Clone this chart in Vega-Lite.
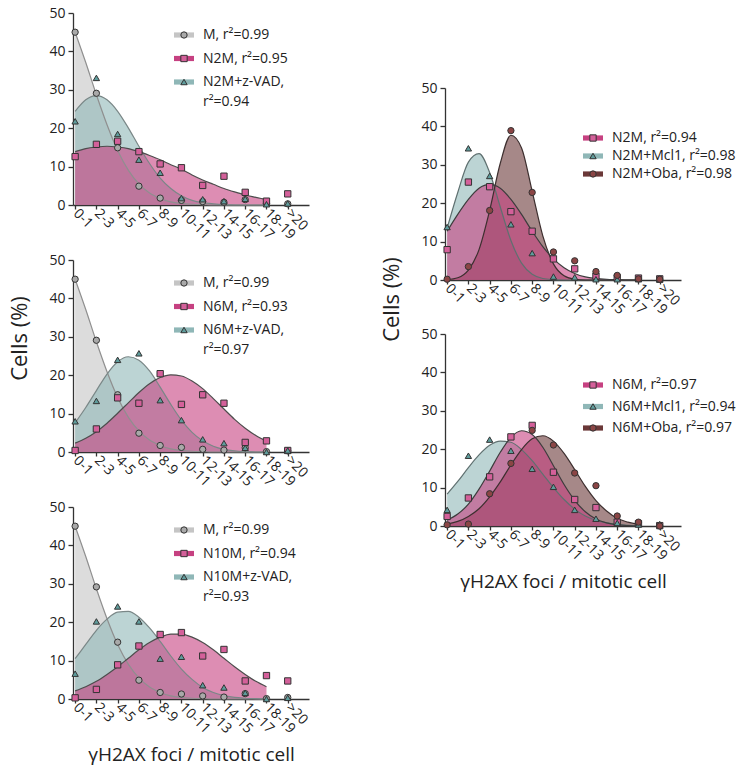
{
"$schema": "https://vega.github.io/schema/vega-lite/v6.json",
"padding": {"left": 8, "top": 6, "right": 0, "bottom": 4},
"config": {
  "font": "Open Sans",
  "view": {"stroke": null},
  "axis": {"domainColor": "#333333", "tickColor": "#333333", "labelColor": "#222222", "titleColor": "#222222", "labelFontSize": 14, "titleFontSize": 22, "titleFontWeight": "normal", "grid": false, "domainWidth": 1.3, "tickWidth": 1.3},
  "legend": {"labelFontSize": 14, "labelColor": "#222222", "padding": 0, "labelLimit": 300},
  "style": {"guide-label": {"lineHeight": 20}}
},
"datasets": {
"curves": [
{"p":"L1","s":"M","x":0,"y":45},{"p":"L1","s":"M","x":0.5,"y":37.1},{"p":"L1","s":"M","x":1,"y":28.7},{"p":"L1","s":"M","x":1.5,"y":20.9},{"p":"L1","s":"M","x":2,"y":14.2},{"p":"L1","s":"M","x":2.5,"y":9.1},{"p":"L1","s":"M","x":3,"y":5.5},{"p":"L1","s":"M","x":3.5,"y":3.1},{"p":"L1","s":"M","x":4,"y":1.7},{"p":"L1","s":"M","x":4.5,"y":0.8},{"p":"L1","s":"M","x":5,"y":0.4},{"p":"L1","s":"M","x":5.5,"y":0.2},{"p":"L1","s":"M","x":6,"y":0.1},{"p":"L1","s":"M","x":6.5,"y":0},{"p":"L1","s":"M","x":7,"y":0},{"p":"L1","s":"M","x":7.5,"y":0},{"p":"L1","s":"M","x":8,"y":0},{"p":"L1","s":"M","x":8.5,"y":0},{"p":"L1","s":"M","x":9,"y":0},
{"p":"L1","s":"N2M+z-VAD","x":0,"y":24.4},{"p":"L1","s":"N2M+z-VAD","x":0.5,"y":27.4},{"p":"L1","s":"N2M+z-VAD","x":1,"y":28.5},{"p":"L1","s":"N2M+z-VAD","x":1.5,"y":27.4},{"p":"L1","s":"N2M+z-VAD","x":2,"y":24.4},{"p":"L1","s":"N2M+z-VAD","x":2.5,"y":20.1},{"p":"L1","s":"N2M+z-VAD","x":3,"y":15.3},{"p":"L1","s":"N2M+z-VAD","x":3.5,"y":10.8},{"p":"L1","s":"N2M+z-VAD","x":4,"y":7},{"p":"L1","s":"N2M+z-VAD","x":4.5,"y":4.3},{"p":"L1","s":"N2M+z-VAD","x":5,"y":2.4},{"p":"L1","s":"N2M+z-VAD","x":5.5,"y":1.2},{"p":"L1","s":"N2M+z-VAD","x":6,"y":0.6},{"p":"L1","s":"N2M+z-VAD","x":6.5,"y":0.3},{"p":"L1","s":"N2M+z-VAD","x":7,"y":0.1},{"p":"L1","s":"N2M+z-VAD","x":7.5,"y":0},{"p":"L1","s":"N2M+z-VAD","x":8,"y":0},{"p":"L1","s":"N2M+z-VAD","x":8.5,"y":0},{"p":"L1","s":"N2M+z-VAD","x":9,"y":0},
{"p":"L1","s":"N2M","x":0,"y":13.9},{"p":"L1","s":"N2M","x":0.5,"y":14.7},{"p":"L1","s":"N2M","x":1,"y":15.1},{"p":"L1","s":"N2M","x":1.5,"y":15.3},{"p":"L1","s":"N2M","x":2,"y":15.1},{"p":"L1","s":"N2M","x":2.5,"y":14.7},{"p":"L1","s":"N2M","x":3,"y":13.9},{"p":"L1","s":"N2M","x":3.5,"y":12.9},{"p":"L1","s":"N2M","x":4,"y":11.8},{"p":"L1","s":"N2M","x":4.5,"y":10.5},{"p":"L1","s":"N2M","x":5,"y":9.3},{"p":"L1","s":"N2M","x":5.5,"y":7.8},{"p":"L1","s":"N2M","x":6,"y":6.5},{"p":"L1","s":"N2M","x":6.5,"y":5.4},{"p":"L1","s":"N2M","x":7,"y":4.3},{"p":"L1","s":"N2M","x":7.5,"y":3.4},{"p":"L1","s":"N2M","x":8,"y":2.6},{"p":"L1","s":"N2M","x":8.5,"y":2},{"p":"L1","s":"N2M","x":9,"y":1.4},
{"p":"L2","s":"M","x":0,"y":45},{"p":"L2","s":"M","x":0.5,"y":37.1},{"p":"L2","s":"M","x":1,"y":28.7},{"p":"L2","s":"M","x":1.5,"y":20.9},{"p":"L2","s":"M","x":2,"y":14.2},{"p":"L2","s":"M","x":2.5,"y":9.1},{"p":"L2","s":"M","x":3,"y":5.5},{"p":"L2","s":"M","x":3.5,"y":3.1},{"p":"L2","s":"M","x":4,"y":1.7},{"p":"L2","s":"M","x":4.5,"y":0.8},{"p":"L2","s":"M","x":5,"y":0.4},{"p":"L2","s":"M","x":5.5,"y":0.2},{"p":"L2","s":"M","x":6,"y":0.1},{"p":"L2","s":"M","x":6.5,"y":0},{"p":"L2","s":"M","x":7,"y":0},{"p":"L2","s":"M","x":7.5,"y":0},{"p":"L2","s":"M","x":8,"y":0},{"p":"L2","s":"M","x":8.5,"y":0},{"p":"L2","s":"M","x":9,"y":0},
{"p":"L2","s":"N6M+z-VAD","x":0,"y":7.6},{"p":"L2","s":"N6M+z-VAD","x":0.5,"y":11.6},{"p":"L2","s":"N6M+z-VAD","x":1,"y":16},{"p":"L2","s":"N6M+z-VAD","x":1.5,"y":20.3},{"p":"L2","s":"N6M+z-VAD","x":2,"y":23.5},{"p":"L2","s":"N6M+z-VAD","x":2.5,"y":24.8},{"p":"L2","s":"N6M+z-VAD","x":3,"y":23.9},{"p":"L2","s":"N6M+z-VAD","x":3.5,"y":21.1},{"p":"L2","s":"N6M+z-VAD","x":4,"y":16.9},{"p":"L2","s":"N6M+z-VAD","x":4.5,"y":12.4},{"p":"L2","s":"N6M+z-VAD","x":5,"y":8.3},{"p":"L2","s":"N6M+z-VAD","x":5.5,"y":5.1},{"p":"L2","s":"N6M+z-VAD","x":6,"y":2.9},{"p":"L2","s":"N6M+z-VAD","x":6.5,"y":1.5},{"p":"L2","s":"N6M+z-VAD","x":7,"y":0.7},{"p":"L2","s":"N6M+z-VAD","x":7.5,"y":0.3},{"p":"L2","s":"N6M+z-VAD","x":8,"y":0.1},{"p":"L2","s":"N6M+z-VAD","x":8.5,"y":0},{"p":"L2","s":"N6M+z-VAD","x":9,"y":0},
{"p":"L2","s":"N6M","x":0,"y":2.3},{"p":"L2","s":"N6M","x":0.5,"y":3.6},{"p":"L2","s":"N6M","x":1,"y":5.3},{"p":"L2","s":"N6M","x":1.5,"y":7.5},{"p":"L2","s":"N6M","x":2,"y":10.1},{"p":"L2","s":"N6M","x":2.5,"y":12.8},{"p":"L2","s":"N6M","x":3,"y":15.5},{"p":"L2","s":"N6M","x":3.5,"y":17.8},{"p":"L2","s":"N6M","x":4,"y":19.4},{"p":"L2","s":"N6M","x":4.5,"y":20.1},{"p":"L2","s":"N6M","x":5,"y":19.8},{"p":"L2","s":"N6M","x":5.5,"y":18.5},{"p":"L2","s":"N6M","x":6,"y":16.5},{"p":"L2","s":"N6M","x":6.5,"y":13.9},{"p":"L2","s":"N6M","x":7,"y":11.2},{"p":"L2","s":"N6M","x":7.5,"y":8.5},{"p":"L2","s":"N6M","x":8,"y":6.2},{"p":"L2","s":"N6M","x":8.5,"y":4.3},{"p":"L2","s":"N6M","x":9,"y":2.8},
{"p":"L3","s":"M","x":0,"y":45},{"p":"L3","s":"M","x":0.5,"y":37.1},{"p":"L3","s":"M","x":1,"y":28.7},{"p":"L3","s":"M","x":1.5,"y":20.9},{"p":"L3","s":"M","x":2,"y":14.2},{"p":"L3","s":"M","x":2.5,"y":9.1},{"p":"L3","s":"M","x":3,"y":5.5},{"p":"L3","s":"M","x":3.5,"y":3.1},{"p":"L3","s":"M","x":4,"y":1.7},{"p":"L3","s":"M","x":4.5,"y":0.8},{"p":"L3","s":"M","x":5,"y":0.4},{"p":"L3","s":"M","x":5.5,"y":0.2},{"p":"L3","s":"M","x":6,"y":0.1},{"p":"L3","s":"M","x":6.5,"y":0},{"p":"L3","s":"M","x":7,"y":0},{"p":"L3","s":"M","x":7.5,"y":0},{"p":"L3","s":"M","x":8,"y":0},{"p":"L3","s":"M","x":8.5,"y":0},{"p":"L3","s":"M","x":9,"y":0},
{"p":"L3","s":"N10M+z-VAD","x":0,"y":10.5},{"p":"L3","s":"N10M+z-VAD","x":0.5,"y":14.2},{"p":"L3","s":"N10M+z-VAD","x":1,"y":17.9},{"p":"L3","s":"N10M+z-VAD","x":1.5,"y":20.8},{"p":"L3","s":"N10M+z-VAD","x":2,"y":22.6},{"p":"L3","s":"N10M+z-VAD","x":2.5,"y":22.8},{"p":"L3","s":"N10M+z-VAD","x":3,"y":21.3},{"p":"L3","s":"N10M+z-VAD","x":3.5,"y":18.5},{"p":"L3","s":"N10M+z-VAD","x":4,"y":15},{"p":"L3","s":"N10M+z-VAD","x":4.5,"y":11.2},{"p":"L3","s":"N10M+z-VAD","x":5,"y":7.8},{"p":"L3","s":"N10M+z-VAD","x":5.5,"y":5.1},{"p":"L3","s":"N10M+z-VAD","x":6,"y":3},{"p":"L3","s":"N10M+z-VAD","x":6.5,"y":1.7},{"p":"L3","s":"N10M+z-VAD","x":7,"y":0.9},{"p":"L3","s":"N10M+z-VAD","x":7.5,"y":0.4},{"p":"L3","s":"N10M+z-VAD","x":8,"y":0.2},{"p":"L3","s":"N10M+z-VAD","x":8.5,"y":0.1},{"p":"L3","s":"N10M+z-VAD","x":9,"y":0},
{"p":"L3","s":"N10M","x":0,"y":2.1},{"p":"L3","s":"N10M","x":0.5,"y":3.2},{"p":"L3","s":"N10M","x":1,"y":4.6},{"p":"L3","s":"N10M","x":1.5,"y":6.4},{"p":"L3","s":"N10M","x":2,"y":8.4},{"p":"L3","s":"N10M","x":2.5,"y":10.6},{"p":"L3","s":"N10M","x":3,"y":12.8},{"p":"L3","s":"N10M","x":3.5,"y":14.7},{"p":"L3","s":"N10M","x":4,"y":16.1},{"p":"L3","s":"N10M","x":4.5,"y":16.9},{"p":"L3","s":"N10M","x":5,"y":16.9},{"p":"L3","s":"N10M","x":5.5,"y":16.1},{"p":"L3","s":"N10M","x":6,"y":14.7},{"p":"L3","s":"N10M","x":6.5,"y":12.8},{"p":"L3","s":"N10M","x":7,"y":10.6},{"p":"L3","s":"N10M","x":7.5,"y":8.4},{"p":"L3","s":"N10M","x":8,"y":6.4},{"p":"L3","s":"N10M","x":8.5,"y":4.6},{"p":"L3","s":"N10M","x":9,"y":3.2},
{"p":"R1","s":"N2M+Mcl1","x":0,"y":13.5},{"p":"R1","s":"N2M+Mcl1","x":0.5,"y":22.8},{"p":"R1","s":"N2M+Mcl1","x":1,"y":30.7},{"p":"R1","s":"N2M+Mcl1","x":1.5,"y":32.9},{"p":"R1","s":"N2M+Mcl1","x":2,"y":28},{"p":"R1","s":"N2M+Mcl1","x":2.5,"y":19},{"p":"R1","s":"N2M+Mcl1","x":3,"y":10.3},{"p":"R1","s":"N2M+Mcl1","x":3.5,"y":4.4},{"p":"R1","s":"N2M+Mcl1","x":4,"y":1.5},{"p":"R1","s":"N2M+Mcl1","x":4.5,"y":0.4},{"p":"R1","s":"N2M+Mcl1","x":5,"y":0.1},{"p":"R1","s":"N2M+Mcl1","x":5.5,"y":0},{"p":"R1","s":"N2M+Mcl1","x":6,"y":0},{"p":"R1","s":"N2M+Mcl1","x":6.5,"y":0},{"p":"R1","s":"N2M+Mcl1","x":7,"y":0},{"p":"R1","s":"N2M+Mcl1","x":7.5,"y":0},{"p":"R1","s":"N2M+Mcl1","x":8,"y":0},{"p":"R1","s":"N2M+Mcl1","x":8.5,"y":0},{"p":"R1","s":"N2M+Mcl1","x":9,"y":0},
{"p":"R1","s":"N2M+Oba","x":0,"y":0.1},{"p":"R1","s":"N2M+Oba","x":0.5,"y":0.6},{"p":"R1","s":"N2M+Oba","x":1,"y":2.6},{"p":"R1","s":"N2M+Oba","x":1.5,"y":7.9},{"p":"R1","s":"N2M+Oba","x":2,"y":18.1},{"p":"R1","s":"N2M+Oba","x":2.5,"y":30.4},{"p":"R1","s":"N2M+Oba","x":3,"y":37.7},{"p":"R1","s":"N2M+Oba","x":3.5,"y":34.4},{"p":"R1","s":"N2M+Oba","x":4,"y":23.1},{"p":"R1","s":"N2M+Oba","x":4.5,"y":11.5},{"p":"R1","s":"N2M+Oba","x":5,"y":4.2},{"p":"R1","s":"N2M+Oba","x":5.5,"y":1.1},{"p":"R1","s":"N2M+Oba","x":6,"y":0.2},{"p":"R1","s":"N2M+Oba","x":6.5,"y":0},{"p":"R1","s":"N2M+Oba","x":7,"y":0},{"p":"R1","s":"N2M+Oba","x":7.5,"y":0},{"p":"R1","s":"N2M+Oba","x":8,"y":0},{"p":"R1","s":"N2M+Oba","x":8.5,"y":0},{"p":"R1","s":"N2M+Oba","x":9,"y":0},
{"p":"R1","s":"N2M","x":0,"y":12.7},{"p":"R1","s":"N2M","x":0.5,"y":17.1},{"p":"R1","s":"N2M","x":1,"y":21},{"p":"R1","s":"N2M","x":1.5,"y":23.9},{"p":"R1","s":"N2M","x":2,"y":24.9},{"p":"R1","s":"N2M","x":2.5,"y":23.9},{"p":"R1","s":"N2M","x":3,"y":21},{"p":"R1","s":"N2M","x":3.5,"y":17.1},{"p":"R1","s":"N2M","x":4,"y":12.7},{"p":"R1","s":"N2M","x":4.5,"y":8.7},{"p":"R1","s":"N2M","x":5,"y":5.5},{"p":"R1","s":"N2M","x":5.5,"y":3.2},{"p":"R1","s":"N2M","x":6,"y":1.7},{"p":"R1","s":"N2M","x":6.5,"y":0.8},{"p":"R1","s":"N2M","x":7,"y":0.4},{"p":"R1","s":"N2M","x":7.5,"y":0.2},{"p":"R1","s":"N2M","x":8,"y":0.1},{"p":"R1","s":"N2M","x":8.5,"y":0},{"p":"R1","s":"N2M","x":9,"y":0},
{"p":"R2","s":"N6M+Mcl1","x":0,"y":8.3},{"p":"R2","s":"N6M+Mcl1","x":0.5,"y":11.6},{"p":"R2","s":"N6M+Mcl1","x":1,"y":15.2},{"p":"R2","s":"N6M+Mcl1","x":1.5,"y":18.5},{"p":"R2","s":"N6M+Mcl1","x":2,"y":21},{"p":"R2","s":"N6M+Mcl1","x":2.5,"y":22.1},{"p":"R2","s":"N6M+Mcl1","x":3,"y":21.8},{"p":"R2","s":"N6M+Mcl1","x":3.5,"y":19.9},{"p":"R2","s":"N6M+Mcl1","x":4,"y":17},{"p":"R2","s":"N6M+Mcl1","x":4.5,"y":13.5},{"p":"R2","s":"N6M+Mcl1","x":5,"y":10},{"p":"R2","s":"N6M+Mcl1","x":5.5,"y":6.9},{"p":"R2","s":"N6M+Mcl1","x":6,"y":4.4},{"p":"R2","s":"N6M+Mcl1","x":6.5,"y":2.6},{"p":"R2","s":"N6M+Mcl1","x":7,"y":1.5},{"p":"R2","s":"N6M+Mcl1","x":7.5,"y":0.8},{"p":"R2","s":"N6M+Mcl1","x":8,"y":0.4},{"p":"R2","s":"N6M+Mcl1","x":8.5,"y":0.2},{"p":"R2","s":"N6M+Mcl1","x":9,"y":0.1},
{"p":"R2","s":"N6M+Oba","x":0,"y":0.5},{"p":"R2","s":"N6M+Oba","x":0.5,"y":1.2},{"p":"R2","s":"N6M+Oba","x":1,"y":2.5},{"p":"R2","s":"N6M+Oba","x":1.5,"y":4.5},{"p":"R2","s":"N6M+Oba","x":2,"y":7.6},{"p":"R2","s":"N6M+Oba","x":2.5,"y":11.5},{"p":"R2","s":"N6M+Oba","x":3,"y":15.9},{"p":"R2","s":"N6M+Oba","x":3.5,"y":19.9},{"p":"R2","s":"N6M+Oba","x":4,"y":22.7},{"p":"R2","s":"N6M+Oba","x":4.5,"y":23.5},{"p":"R2","s":"N6M+Oba","x":5,"y":22.1},{"p":"R2","s":"N6M+Oba","x":5.5,"y":18.9},{"p":"R2","s":"N6M+Oba","x":6,"y":14.7},{"p":"R2","s":"N6M+Oba","x":6.5,"y":10.3},{"p":"R2","s":"N6M+Oba","x":7,"y":6.6},{"p":"R2","s":"N6M+Oba","x":7.5,"y":3.9},{"p":"R2","s":"N6M+Oba","x":8,"y":2},{"p":"R2","s":"N6M+Oba","x":8.5,"y":1},{"p":"R2","s":"N6M+Oba","x":9,"y":0.4},
{"p":"R2","s":"N6M","x":0,"y":1.5},{"p":"R2","s":"N6M","x":0.5,"y":3.1},{"p":"R2","s":"N6M","x":1,"y":5.7},{"p":"R2","s":"N6M","x":1.5,"y":9.6},{"p":"R2","s":"N6M","x":2,"y":14.3},{"p":"R2","s":"N6M","x":2.5,"y":19.2},{"p":"R2","s":"N6M","x":3,"y":23.1},{"p":"R2","s":"N6M","x":3.5,"y":24.8},{"p":"R2","s":"N6M","x":4,"y":23.8},{"p":"R2","s":"N6M","x":4.5,"y":20.5},{"p":"R2","s":"N6M","x":5,"y":15.7},{"p":"R2","s":"N6M","x":5.5,"y":10.8},{"p":"R2","s":"N6M","x":6,"y":6.7},{"p":"R2","s":"N6M","x":6.5,"y":3.7},{"p":"R2","s":"N6M","x":7,"y":1.8},{"p":"R2","s":"N6M","x":7.5,"y":0.8},{"p":"R2","s":"N6M","x":8,"y":0.3},{"p":"R2","s":"N6M","x":8.5,"y":0.1},{"p":"R2","s":"N6M","x":9,"y":0}
],
"points": [
{"p":"L1","s":"M","x":0,"y":45},{"p":"L1","s":"M","x":1,"y":29.1},{"p":"L1","s":"M","x":2,"y":14.9},{"p":"L1","s":"M","x":3,"y":4.9},{"p":"L1","s":"M","x":4,"y":1.8},{"p":"L1","s":"M","x":5,"y":1.2},{"p":"L1","s":"M","x":6,"y":0.9},{"p":"L1","s":"M","x":7,"y":0.7},{"p":"L1","s":"M","x":8,"y":1.4},{"p":"L1","s":"M","x":9,"y":0.4},{"p":"L1","s":"M","x":10,"y":0.3},
{"p":"L1","s":"N2M","x":0,"y":12.6},{"p":"L1","s":"N2M","x":1,"y":15.8},{"p":"L1","s":"N2M","x":2,"y":16.6},{"p":"L1","s":"N2M","x":3,"y":13.9},{"p":"L1","s":"N2M","x":4,"y":10.7},{"p":"L1","s":"N2M","x":5,"y":9.7},{"p":"L1","s":"N2M","x":6,"y":5.1},{"p":"L1","s":"N2M","x":7,"y":7.5},{"p":"L1","s":"N2M","x":8,"y":3.3},{"p":"L1","s":"N2M","x":9,"y":1},{"p":"L1","s":"N2M","x":10,"y":2.9},
{"p":"L1","s":"N2M+z-VAD","x":0,"y":21.8},{"p":"L1","s":"N2M+z-VAD","x":1,"y":33.1},{"p":"L1","s":"N2M+z-VAD","x":2,"y":18.5},{"p":"L1","s":"N2M+z-VAD","x":3,"y":11.8},{"p":"L1","s":"N2M+z-VAD","x":4,"y":8.4},{"p":"L1","s":"N2M+z-VAD","x":5,"y":1.8},{"p":"L1","s":"N2M+z-VAD","x":6,"y":1.5},{"p":"L1","s":"N2M+z-VAD","x":7,"y":1},{"p":"L1","s":"N2M+z-VAD","x":8,"y":1.6},{"p":"L1","s":"N2M+z-VAD","x":9,"y":0.2},{"p":"L1","s":"N2M+z-VAD","x":10,"y":0.4},
{"p":"L2","s":"M","x":0,"y":45},{"p":"L2","s":"M","x":1,"y":29.1},{"p":"L2","s":"M","x":2,"y":14.9},{"p":"L2","s":"M","x":3,"y":4.9},{"p":"L2","s":"M","x":4,"y":1.7},{"p":"L2","s":"M","x":5,"y":1.2},{"p":"L2","s":"M","x":6,"y":0.7},{"p":"L2","s":"M","x":7,"y":0.5},{"p":"L2","s":"M","x":8,"y":1.1},{"p":"L2","s":"M","x":9,"y":0.1},{"p":"L2","s":"M","x":10,"y":0.3},
{"p":"L2","s":"N6M","x":0,"y":0.4},{"p":"L2","s":"N6M","x":1,"y":6},{"p":"L2","s":"N6M","x":2,"y":14.1},{"p":"L2","s":"N6M","x":3,"y":12.7},{"p":"L2","s":"N6M","x":4,"y":20.4},{"p":"L2","s":"N6M","x":5,"y":12.4},{"p":"L2","s":"N6M","x":6,"y":14.9},{"p":"L2","s":"N6M","x":7,"y":12.7},{"p":"L2","s":"N6M","x":8,"y":2.5},{"p":"L2","s":"N6M","x":9,"y":2.9},{"p":"L2","s":"N6M","x":10,"y":0.4},
{"p":"L2","s":"N6M+z-VAD","x":0,"y":8},{"p":"L2","s":"N6M+z-VAD","x":1,"y":13.3},{"p":"L2","s":"N6M+z-VAD","x":2,"y":24},{"p":"L2","s":"N6M+z-VAD","x":3,"y":25.7},{"p":"L2","s":"N6M+z-VAD","x":4,"y":13.5},{"p":"L2","s":"N6M+z-VAD","x":5,"y":8.3},{"p":"L2","s":"N6M+z-VAD","x":6,"y":3.3},{"p":"L2","s":"N6M+z-VAD","x":7,"y":2.3},{"p":"L2","s":"N6M+z-VAD","x":8,"y":1.1},{"p":"L2","s":"N6M+z-VAD","x":9,"y":0},{"p":"L2","s":"N6M+z-VAD","x":10,"y":0.4},
{"p":"L3","s":"M","x":0,"y":45},{"p":"L3","s":"M","x":1,"y":29.2},{"p":"L3","s":"M","x":2,"y":14.8},{"p":"L3","s":"M","x":3,"y":4.9},{"p":"L3","s":"M","x":4,"y":1.7},{"p":"L3","s":"M","x":5,"y":1.3},{"p":"L3","s":"M","x":6,"y":0.8},{"p":"L3","s":"M","x":7,"y":0.5},{"p":"L3","s":"M","x":8,"y":1.4},{"p":"L3","s":"M","x":9,"y":0.1},{"p":"L3","s":"M","x":10,"y":0.4},
{"p":"L3","s":"N10M","x":0,"y":0.3},{"p":"L3","s":"N10M","x":1,"y":2.5},{"p":"L3","s":"N10M","x":2,"y":8.9},{"p":"L3","s":"N10M","x":3,"y":13.8},{"p":"L3","s":"N10M","x":4,"y":16.8},{"p":"L3","s":"N10M","x":5,"y":17.3},{"p":"L3","s":"N10M","x":6,"y":11.2},{"p":"L3","s":"N10M","x":7,"y":12.9},{"p":"L3","s":"N10M","x":8,"y":4.7},{"p":"L3","s":"N10M","x":9,"y":6.1},{"p":"L3","s":"N10M","x":10,"y":4.7},
{"p":"L3","s":"N10M+z-VAD","x":0,"y":6.6},{"p":"L3","s":"N10M+z-VAD","x":1,"y":20.2},{"p":"L3","s":"N10M+z-VAD","x":2,"y":24.1},{"p":"L3","s":"N10M+z-VAD","x":3,"y":20.2},{"p":"L3","s":"N10M+z-VAD","x":4,"y":10.5},{"p":"L3","s":"N10M+z-VAD","x":5,"y":11},{"p":"L3","s":"N10M+z-VAD","x":6,"y":3.6},{"p":"L3","s":"N10M+z-VAD","x":7,"y":3},{"p":"L3","s":"N10M+z-VAD","x":8,"y":1.6},{"p":"L3","s":"N10M+z-VAD","x":9,"y":0},{"p":"L3","s":"N10M+z-VAD","x":10,"y":0.3},
{"p":"R1","s":"N2M","x":0,"y":7.9},{"p":"R1","s":"N2M","x":1,"y":25.5},{"p":"R1","s":"N2M","x":2,"y":24.3},{"p":"R1","s":"N2M","x":3,"y":17.8},{"p":"R1","s":"N2M","x":4,"y":12.7},{"p":"R1","s":"N2M","x":5,"y":5.5},{"p":"R1","s":"N2M","x":6,"y":2.9},{"p":"R1","s":"N2M","x":7,"y":1},{"p":"R1","s":"N2M","x":8,"y":0.6},{"p":"R1","s":"N2M","x":9,"y":0.5},{"p":"R1","s":"N2M","x":10,"y":0.3},
{"p":"R1","s":"N2M+Mcl1","x":0,"y":13.8},{"p":"R1","s":"N2M+Mcl1","x":1,"y":34.3},{"p":"R1","s":"N2M+Mcl1","x":2,"y":27.1},{"p":"R1","s":"N2M+Mcl1","x":3,"y":14.5},{"p":"R1","s":"N2M+Mcl1","x":4,"y":7},{"p":"R1","s":"N2M+Mcl1","x":5,"y":0.9},{"p":"R1","s":"N2M+Mcl1","x":6,"y":0.7},{"p":"R1","s":"N2M+Mcl1","x":7,"y":0.2},{"p":"R1","s":"N2M+Mcl1","x":8,"y":0.2},{"p":"R1","s":"N2M+Mcl1","x":9,"y":0.2},{"p":"R1","s":"N2M+Mcl1","x":10,"y":0.1},
{"p":"R1","s":"N2M+Oba","x":0,"y":0.2},{"p":"R1","s":"N2M+Oba","x":1,"y":3.5},{"p":"R1","s":"N2M+Oba","x":2,"y":18.1},{"p":"R1","s":"N2M+Oba","x":3,"y":38.9},{"p":"R1","s":"N2M+Oba","x":4,"y":22.8},{"p":"R1","s":"N2M+Oba","x":5,"y":7.3},{"p":"R1","s":"N2M+Oba","x":6,"y":5},{"p":"R1","s":"N2M+Oba","x":7,"y":2.2},{"p":"R1","s":"N2M+Oba","x":8,"y":1.2},{"p":"R1","s":"N2M+Oba","x":9,"y":0.3},{"p":"R1","s":"N2M+Oba","x":10,"y":0.2},
{"p":"R2","s":"N6M","x":0,"y":2.5},{"p":"R2","s":"N6M","x":1,"y":7.3},{"p":"R2","s":"N6M","x":2,"y":12.8},{"p":"R2","s":"N6M","x":3,"y":23.2},{"p":"R2","s":"N6M","x":4,"y":26.2},{"p":"R2","s":"N6M","x":5,"y":14},{"p":"R2","s":"N6M","x":6,"y":6.9},{"p":"R2","s":"N6M","x":7,"y":4.8},{"p":"R2","s":"N6M","x":8,"y":1},{"p":"R2","s":"N6M","x":9,"y":0.6},{"p":"R2","s":"N6M","x":10,"y":0.1},
{"p":"R2","s":"N6M+Mcl1","x":0,"y":4.2},{"p":"R2","s":"N6M+Mcl1","x":1,"y":18.3},{"p":"R2","s":"N6M+Mcl1","x":2,"y":22.5},{"p":"R2","s":"N6M+Mcl1","x":3,"y":19.6},{"p":"R2","s":"N6M+Mcl1","x":4,"y":14.9},{"p":"R2","s":"N6M+Mcl1","x":5,"y":10.2},{"p":"R2","s":"N6M+Mcl1","x":6,"y":4.2},{"p":"R2","s":"N6M+Mcl1","x":7,"y":1.9},{"p":"R2","s":"N6M+Mcl1","x":8,"y":0.8},{"p":"R2","s":"N6M+Mcl1","x":9,"y":0.4},{"p":"R2","s":"N6M+Mcl1","x":10,"y":0.5},
{"p":"R2","s":"N6M+Oba","x":0,"y":0.3},{"p":"R2","s":"N6M+Oba","x":1,"y":0.5},{"p":"R2","s":"N6M+Oba","x":2,"y":8.4},{"p":"R2","s":"N6M+Oba","x":3,"y":16.3},{"p":"R2","s":"N6M+Oba","x":4,"y":24.9},{"p":"R2","s":"N6M+Oba","x":5,"y":21.1},{"p":"R2","s":"N6M+Oba","x":6,"y":13.8},{"p":"R2","s":"N6M+Oba","x":7,"y":10.5},{"p":"R2","s":"N6M+Oba","x":8,"y":2.6},{"p":"R2","s":"N6M+Oba","x":9,"y":1},{"p":"R2","s":"N6M+Oba","x":10,"y":0}
]
},
"spacing": 70,
"resolve": {"scale": {"shape": "independent", "fill": "independent", "stroke": "independent"}, "legend": {"shape": "independent", "fill": "independent", "stroke": "independent"}},
"hconcat": [
{
 "spacing": 55, "bounds": "flush",
 "resolve": {"scale": {"shape": "independent", "fill": "independent", "stroke": "independent"}, "legend": {"shape": "independent", "fill": "independent", "stroke": "independent"}},
 "vconcat": [
  {
   "width": 236, "height": 192,
   "encoding": {
    "x": {"field": "x", "type": "quantitative", "scale": {"domain": [-0.1, 11], "nice": false, "zero": false}, "axis": {"title": null, "values": [0,1,2,3,4,5,6,7,8,9,10], "labelExpr": "['0-1','2-3','4-5','6-7','8-9','10-11','12-13','14-15','16-17','18-19','>20'][datum.value]", "labelAngle": 45, "labelAlign": "left", "labelBaseline": "middle", "labelPadding": 2, "tickSize": 4, "labelOverlap": false, "labelFlush": false, "labelBound": false}},
    "y": {"field": "y", "type": "quantitative", "stack": null, "scale": {"domain": [0, 50], "nice": false}, "axis": {"title": null, "values": [0,10,20,30,40,50], "tickSize": 5, "labelPadding": 3}}
   },
   "layer": [
    {"data": {"name": "curves"}, "transform": [{"filter": "datum.p == 'L1'"}], "mark": {"type": "area", "interpolate": "monotone", "fillOpacity": 0.6},
     "encoding": {"fill": {"field": "s", "type": "nominal", "scale": {"range": ["#c5c5c5", "#c64181", "#8fb7b7"]}, "legend": {"orient": "none", "legendX": 104, "legendY": 15, "title": null, "symbolType": "M-2.5,-0.65H2.5V0.65H-2.5Z", "symbolSize": 64, "symbolStrokeWidth": 0, "symbolOpacity": 1, "labelOffset": 12, "rowPadding": 9.5, "labelExpr": "datum.label == 'M' ? 'M, r²=0.99' : datum.label == 'N2M' ? 'N2M, r²=0.95' : ['N2M+z-VAD,', 'r²=0.94']"}}}},
    {"data": {"name": "curves"}, "transform": [{"filter": "datum.p == 'L1'"}], "mark": {"type": "line", "interpolate": "monotone", "strokeWidth": 1.2},
     "encoding": {"stroke": {"field": "s", "type": "nominal", "scale": {"range": ["#8f8f8f", "#4d4d4d", "#7a8787"]}, "legend": null}}},
    {"data": {"name": "points"}, "transform": [{"filter": "datum.p == 'L1'"}], "mark": {"type": "point", "filled": true, "size": 40, "stroke": "#333333", "strokeWidth": 1, "opacity": 1, "shape": {"expr": "datum.value == 'M' ? 'circle' : indexof(datum.value, '+') >= 0 ? 'triangle-up' : 'square'"}},
     "encoding": {
      "fill": {"field": "s", "type": "nominal", "scale": {"range": ["#a9a9a9", "#d4609a", "#5f9d9d"]}, "legend": {"orient": "none", "legendX": 104, "legendY": 15, "title": null, "symbolSize": 40, "symbolStrokeColor": "#333333", "symbolStrokeWidth": 1, "labelOpacity": 0, "labelOffset": 12, "rowPadding": 9.5, "labelExpr": "' '"}},
      "shape": {"field": "s", "type": "nominal", "scale": {"range": ["circle", "square", "triangle-up"]}, "legend": null}
     }}
   ],
   "resolve": {"scale": {"fill": "independent"}}
  },
  {
   "width": 236, "height": 192,
   "encoding": {
    "x": {"field": "x", "type": "quantitative", "scale": {"domain": [-0.1, 11], "nice": false, "zero": false}, "axis": {"title": null, "values": [0,1,2,3,4,5,6,7,8,9,10], "labelExpr": "['0-1','2-3','4-5','6-7','8-9','10-11','12-13','14-15','16-17','18-19','>20'][datum.value]", "labelAngle": 45, "labelAlign": "left", "labelBaseline": "middle", "labelPadding": 2, "tickSize": 4, "labelOverlap": false, "labelFlush": false, "labelBound": false}},
    "y": {"field": "y", "type": "quantitative", "stack": null, "scale": {"domain": [0, 50], "nice": false}, "axis": {"title": "Cells (%)", "titleY": 78, "titleAlign": "center", "titlePadding": 17, "values": [0,10,20,30,40,50], "tickSize": 5, "labelPadding": 3}}
   },
   "layer": [
    {"data": {"name": "curves"}, "transform": [{"filter": "datum.p == 'L2'"}], "mark": {"type": "area", "interpolate": "monotone", "fillOpacity": 0.6},
     "encoding": {"fill": {"field": "s", "type": "nominal", "scale": {"range": ["#c5c5c5", "#c64181", "#8fb7b7"]}, "legend": {"orient": "none", "legendX": 104, "legendY": 16, "title": null, "symbolType": "M-2.5,-0.65H2.5V0.65H-2.5Z", "symbolSize": 64, "symbolStrokeWidth": 0, "symbolOpacity": 1, "labelOffset": 12, "rowPadding": 9.5, "labelExpr": "datum.label == 'M' ? 'M, r²=0.99' : datum.label == 'N6M' ? 'N6M, r²=0.93' : ['N6M+z-VAD,', 'r²=0.97']"}}}},
    {"data": {"name": "curves"}, "transform": [{"filter": "datum.p == 'L2'"}], "mark": {"type": "line", "interpolate": "monotone", "strokeWidth": 1.2},
     "encoding": {"stroke": {"field": "s", "type": "nominal", "scale": {"range": ["#8f8f8f", "#4d4d4d", "#7a8787"]}, "legend": null}}},
    {"data": {"name": "points"}, "transform": [{"filter": "datum.p == 'L2'"}], "mark": {"type": "point", "filled": true, "size": 40, "stroke": "#333333", "strokeWidth": 1, "opacity": 1, "shape": {"expr": "datum.value == 'M' ? 'circle' : indexof(datum.value, '+') >= 0 ? 'triangle-up' : 'square'"}},
     "encoding": {
      "fill": {"field": "s", "type": "nominal", "scale": {"range": ["#a9a9a9", "#d4609a", "#5f9d9d"]}, "legend": {"orient": "none", "legendX": 104, "legendY": 16, "title": null, "symbolSize": 40, "symbolStrokeColor": "#333333", "symbolStrokeWidth": 1, "labelOpacity": 0, "labelOffset": 12, "rowPadding": 9.5, "labelExpr": "' '"}},
      "shape": {"field": "s", "type": "nominal", "scale": {"range": ["circle", "square", "triangle-up"]}, "legend": null}
     }}
   ],
   "resolve": {"scale": {"fill": "independent"}}
  },
  {
   "width": 236, "height": 192,
   "encoding": {
    "x": {"field": "x", "type": "quantitative", "scale": {"domain": [-0.1, 11], "nice": false, "zero": false}, "axis": {"title": "γH2AX foci / mitotic cell", "titleFontSize": 19, "titlePadding": 10, "values": [0,1,2,3,4,5,6,7,8,9,10], "labelExpr": "['0-1','2-3','4-5','6-7','8-9','10-11','12-13','14-15','16-17','18-19','>20'][datum.value]", "labelAngle": 45, "labelAlign": "left", "labelBaseline": "middle", "labelPadding": 2, "tickSize": 4, "labelOverlap": false, "labelFlush": false, "labelBound": false}},
    "y": {"field": "y", "type": "quantitative", "stack": null, "scale": {"domain": [0, 50], "nice": false}, "axis": {"title": null, "values": [0,10,20,30,40,50], "tickSize": 5, "labelPadding": 3}}
   },
   "layer": [
    {"data": {"name": "curves"}, "transform": [{"filter": "datum.p == 'L3'"}], "mark": {"type": "area", "interpolate": "monotone", "fillOpacity": 0.6},
     "encoding": {"fill": {"field": "s", "type": "nominal", "scale": {"range": ["#c5c5c5", "#c64181", "#8fb7b7"]}, "legend": {"orient": "none", "legendX": 104, "legendY": 16, "title": null, "symbolType": "M-2.5,-0.65H2.5V0.65H-2.5Z", "symbolSize": 64, "symbolStrokeWidth": 0, "symbolOpacity": 1, "labelOffset": 12, "rowPadding": 9.5, "labelExpr": "datum.label == 'M' ? 'M, r²=0.99' : datum.label == 'N10M' ? 'N10M, r²=0.94' : ['N10M+z-VAD,', 'r²=0.93']"}}}},
    {"data": {"name": "curves"}, "transform": [{"filter": "datum.p == 'L3'"}], "mark": {"type": "line", "interpolate": "monotone", "strokeWidth": 1.2},
     "encoding": {"stroke": {"field": "s", "type": "nominal", "scale": {"range": ["#8f8f8f", "#4d4d4d", "#7a8787"]}, "legend": null}}},
    {"data": {"name": "points"}, "transform": [{"filter": "datum.p == 'L3'"}], "mark": {"type": "point", "filled": true, "size": 40, "stroke": "#333333", "strokeWidth": 1, "opacity": 1, "shape": {"expr": "datum.value == 'M' ? 'circle' : indexof(datum.value, '+') >= 0 ? 'triangle-up' : 'square'"}},
     "encoding": {
      "fill": {"field": "s", "type": "nominal", "scale": {"range": ["#a9a9a9", "#d4609a", "#5f9d9d"]}, "legend": {"orient": "none", "legendX": 104, "legendY": 16, "title": null, "symbolSize": 40, "symbolStrokeColor": "#333333", "symbolStrokeWidth": 1, "labelOpacity": 0, "labelOffset": 12, "rowPadding": 9.5, "labelExpr": "' '"}},
      "shape": {"field": "s", "type": "nominal", "scale": {"range": ["circle", "square", "triangle-up"]}, "legend": null}
     }}
   ],
   "resolve": {"scale": {"fill": "independent"}}
  }
 ]
},
{
 "spacing": 54, "bounds": "flush",
 "resolve": {"scale": {"shape": "independent", "fill": "independent", "stroke": "independent"}, "legend": {"shape": "independent", "fill": "independent", "stroke": "independent"}},
 "vconcat": [
  {"width": 236, "height": 21, "data": {"values": []}, "mark": {"type": "point", "opacity": 0}},
  {
   "width": 236, "height": 192,
   "encoding": {
    "x": {"field": "x", "type": "quantitative", "scale": {"domain": [-0.1, 11], "nice": false, "zero": false}, "axis": {"title": null, "values": [0,1,2,3,4,5,6,7,8,9,10], "labelExpr": "['0-1','2-3','4-5','6-7','8-9','10-11','12-13','14-15','16-17','18-19','>20'][datum.value]", "labelAngle": 45, "labelAlign": "left", "labelBaseline": "middle", "labelPadding": 2, "tickSize": 4, "labelOverlap": false, "labelFlush": false, "labelBound": false}},
    "y": {"field": "y", "type": "quantitative", "stack": null, "scale": {"domain": [0, 50], "nice": false}, "axis": {"title": "Cells (%)", "titleY": 211, "titleAlign": "center", "titlePadding": 17, "values": [0,10,20,30,40,50], "tickSize": 5, "labelPadding": 3}}
   },
   "layer": [
    {"data": {"name": "curves"}, "transform": [{"filter": "datum.p == 'R1'"}], "mark": {"type": "area", "interpolate": "monotone", "fillOpacity": 0.6},
     "encoding": {"fill": {"field": "s", "type": "nominal", "scale": {"range": ["#c64181", "#8fb7b7", "#6b3838"]}, "legend": {"orient": "none", "legendX": 141, "legendY": 43, "title": null, "symbolType": "M-2.5,-0.65H2.5V0.65H-2.5Z", "symbolSize": 64, "symbolStrokeWidth": 0, "symbolOpacity": 1, "labelOffset": 12, "rowPadding": 4, "labelExpr": "datum.label == 'N2M' ? 'N2M, r²=0.94' : datum.label == 'N2M+Mcl1' ? 'N2M+Mcl1, r²=0.98' : 'N2M+Oba, r²=0.98'"}}}},
    {"data": {"name": "curves"}, "transform": [{"filter": "datum.p == 'R1'"}], "mark": {"type": "line", "interpolate": "monotone", "strokeWidth": 1.2},
     "encoding": {"stroke": {"field": "s", "type": "nominal", "scale": {"range": ["#3d3d3d", "#5f7070", "#3d2f2f"]}, "legend": null}}},
    {"data": {"name": "points"}, "transform": [{"filter": "datum.p == 'R1'"}], "mark": {"type": "point", "filled": true, "size": 40, "stroke": "#333333", "strokeWidth": 1, "opacity": 1, "shape": {"expr": "indexof(datum.value, 'Mcl1') >= 0 ? 'triangle-up' : indexof(datum.value, 'Oba') >= 0 ? 'circle' : 'square'"}},
     "encoding": {
      "fill": {"field": "s", "type": "nominal", "scale": {"range": ["#d4609a", "#5f9d9d", "#8b4545"]}, "legend": {"orient": "none", "legendX": 141, "legendY": 43, "title": null, "symbolSize": 40, "symbolStrokeColor": "#333333", "symbolStrokeWidth": 1, "labelOpacity": 0, "labelOffset": 12, "rowPadding": 4, "labelExpr": "' '"}},
      "shape": {"field": "s", "type": "nominal", "scale": {"range": ["square", "triangle-up", "circle"]}, "legend": null}
     }}
   ],
   "resolve": {"scale": {"fill": "independent"}}
  },
  {
   "width": 236, "height": 192,
   "encoding": {
    "x": {"field": "x", "type": "quantitative", "scale": {"domain": [-0.1, 11], "nice": false, "zero": false}, "axis": {"title": "γH2AX foci / mitotic cell", "titleFontSize": 19, "titlePadding": 10, "values": [0,1,2,3,4,5,6,7,8,9,10], "labelExpr": "['0-1','2-3','4-5','6-7','8-9','10-11','12-13','14-15','16-17','18-19','>20'][datum.value]", "labelAngle": 45, "labelAlign": "left", "labelBaseline": "middle", "labelPadding": 2, "tickSize": 4, "labelOverlap": false, "labelFlush": false, "labelBound": false}},
    "y": {"field": "y", "type": "quantitative", "stack": null, "scale": {"domain": [0, 50], "nice": false}, "axis": {"title": null, "values": [0,10,20,30,40,50], "tickSize": 5, "labelPadding": 3}}
   },
   "layer": [
    {"data": {"name": "curves"}, "transform": [{"filter": "datum.p == 'R2'"}], "mark": {"type": "area", "interpolate": "monotone", "fillOpacity": 0.6},
     "encoding": {"fill": {"field": "s", "type": "nominal", "scale": {"range": ["#c64181", "#8fb7b7", "#6b3838"]}, "legend": {"orient": "none", "legendX": 141, "legendY": 44, "title": null, "symbolType": "M-2.5,-0.65H2.5V0.65H-2.5Z", "symbolSize": 64, "symbolStrokeWidth": 0, "symbolOpacity": 1, "labelOffset": 12, "rowPadding": 7.5, "labelExpr": "datum.label == 'N6M' ? 'N6M, r²=0.97' : datum.label == 'N6M+Mcl1' ? 'N6M+Mcl1, r²=0.94' : 'N6M+Oba, r²=0.97'"}}}},
    {"data": {"name": "curves"}, "transform": [{"filter": "datum.p == 'R2'"}], "mark": {"type": "line", "interpolate": "monotone", "strokeWidth": 1.2},
     "encoding": {"stroke": {"field": "s", "type": "nominal", "scale": {"range": ["#3d3d3d", "#5f7070", "#3d2f2f"]}, "legend": null}}},
    {"data": {"name": "points"}, "transform": [{"filter": "datum.p == 'R2'"}], "mark": {"type": "point", "filled": true, "size": 40, "stroke": "#333333", "strokeWidth": 1, "opacity": 1, "shape": {"expr": "indexof(datum.value, 'Mcl1') >= 0 ? 'triangle-up' : indexof(datum.value, 'Oba') >= 0 ? 'circle' : 'square'"}},
     "encoding": {
      "fill": {"field": "s", "type": "nominal", "scale": {"range": ["#d4609a", "#5f9d9d", "#8b4545"]}, "legend": {"orient": "none", "legendX": 141, "legendY": 44, "title": null, "symbolSize": 40, "symbolStrokeColor": "#333333", "symbolStrokeWidth": 1, "labelOpacity": 0, "labelOffset": 12, "rowPadding": 7.5, "labelExpr": "' '"}},
      "shape": {"field": "s", "type": "nominal", "scale": {"range": ["square", "triangle-up", "circle"]}, "legend": null}
     }}
   ],
   "resolve": {"scale": {"fill": "independent"}}
  }
 ]
}
]
}
